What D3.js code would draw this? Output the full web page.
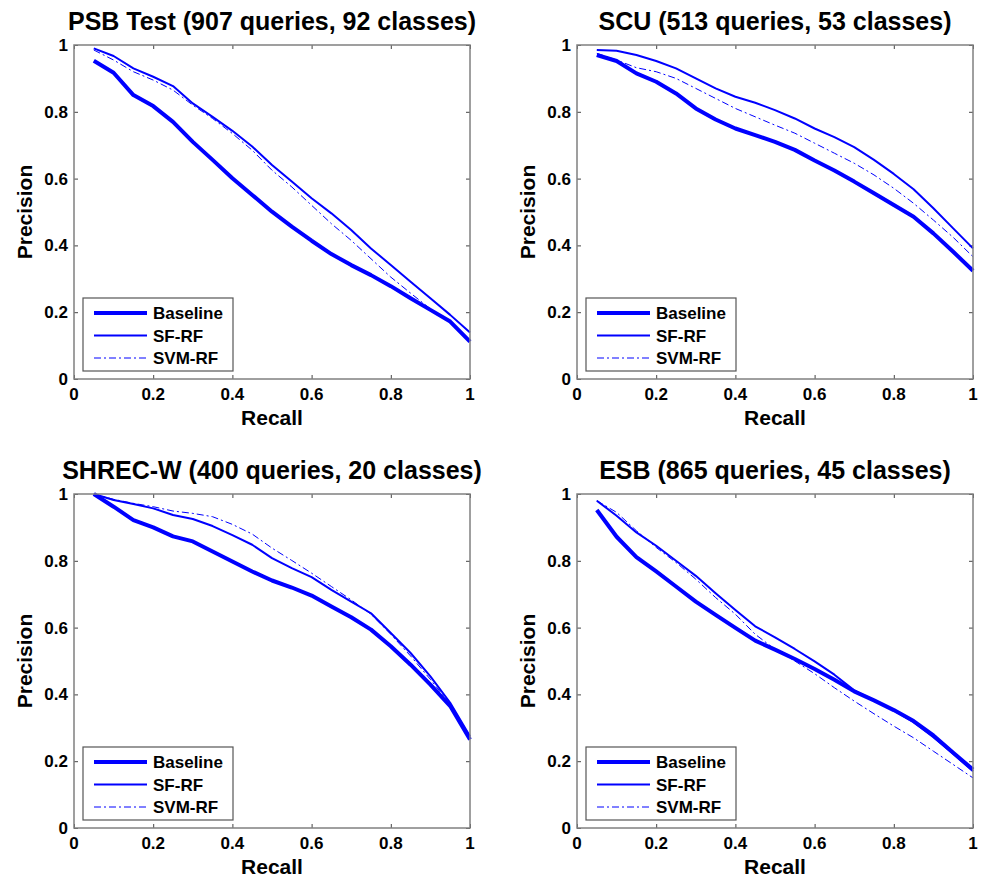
<!DOCTYPE html>
<html>
<head>
<meta charset="utf-8">
<script src="https://cdn.jsdelivr.net/npm/d3@7"></script>
<style>
  body { margin: 0; background: #fff; }
  text { font-family: "Liberation Sans", Arial, Helvetica, sans-serif; font-weight: bold; }
</style>
</head>
<body>
<svg id="drawing_region"></svg>
<script>
// recall levels shared by every curve
var recall = [0.05, 0.1, 0.15, 0.2, 0.25, 0.3, 0.35, 0.4, 0.45, 0.5,
              0.55, 0.6, 0.65, 0.7, 0.75, 0.8, 0.85, 0.9, 0.95, 1.0];
var ticks = [0, 0.2, 0.4, 0.6, 0.8, 1];
var tickLabels = ['0', '0.2', '0.4', '0.6', '0.8', '1'];
var methods = ['Baseline', 'SF-RF', 'SVM-RF'];
var titles = ['PSB Test (907 queries, 92 classes)', 'SCU (513 queries, 53 classes)',
              'SHREC-W (400 queries, 20 classes)', 'ESB (865 queries, 45 classes)'];

// PSB Test
var psbBaseline = [0.953, 0.917, 0.850, 0.817, 0.770, 0.710, 0.656, 0.601, 0.551, 0.501,
                   0.456, 0.414, 0.374, 0.341, 0.311, 0.278, 0.242, 0.207, 0.172, 0.112];
var psbSF       = [0.990, 0.967, 0.930, 0.905, 0.877, 0.825, 0.785, 0.743, 0.696, 0.641,
                   0.591, 0.541, 0.496, 0.446, 0.391, 0.341, 0.291, 0.242, 0.192, 0.139];
var psbSVM      = [0.985, 0.955, 0.920, 0.895, 0.865, 0.820, 0.780, 0.735, 0.685, 0.625,
                   0.575, 0.520, 0.465, 0.415, 0.360, 0.305, 0.257, 0.210, 0.170, 0.115];
// SCU
var scuBaseline = [0.970, 0.952, 0.915, 0.890, 0.855, 0.810, 0.777, 0.750, 0.730, 0.710,
                   0.686, 0.654, 0.624, 0.591, 0.556, 0.521, 0.486, 0.436, 0.381, 0.324];
var scuSF       = [0.985, 0.983, 0.970, 0.952, 0.930, 0.900, 0.870, 0.845, 0.827, 0.805,
                   0.780, 0.750, 0.724, 0.694, 0.656, 0.614, 0.568, 0.511, 0.451, 0.391];
var scuSVM      = [0.975, 0.955, 0.932, 0.920, 0.900, 0.870, 0.840, 0.810, 0.785, 0.760,
                   0.736, 0.706, 0.676, 0.646, 0.611, 0.571, 0.526, 0.476, 0.424, 0.366];
// SHREC-W
var shrecBaseline = [1.000, 0.962, 0.922, 0.900, 0.873, 0.858, 0.828, 0.798, 0.768, 0.741,
                     0.720, 0.696, 0.663, 0.631, 0.594, 0.544, 0.489, 0.429, 0.365, 0.265];
var shrecSF       = [1.000, 0.982, 0.970, 0.957, 0.937, 0.925, 0.904, 0.877, 0.848, 0.808,
                     0.778, 0.751, 0.713, 0.678, 0.643, 0.584, 0.524, 0.454, 0.375, 0.275];
var shrecSVM      = [1.000, 0.984, 0.972, 0.962, 0.949, 0.942, 0.932, 0.909, 0.880, 0.838,
                     0.801, 0.763, 0.723, 0.683, 0.640, 0.580, 0.515, 0.445, 0.370, 0.270];
// ESB
var esbBaseline = [0.952, 0.872, 0.811, 0.768, 0.723, 0.678, 0.638, 0.599, 0.561, 0.534,
                   0.506, 0.476, 0.444, 0.409, 0.382, 0.353, 0.320, 0.277, 0.225, 0.175];
var esbSF       = [0.980, 0.935, 0.885, 0.845, 0.800, 0.755, 0.703, 0.653, 0.604, 0.571,
                   0.536, 0.499, 0.459, 0.412, 0.382, 0.352, 0.317, 0.272, 0.222, 0.170];
var esbSVM      = [0.980, 0.945, 0.890, 0.840, 0.795, 0.745, 0.690, 0.640, 0.580, 0.535,
                   0.500, 0.462, 0.420, 0.380, 0.342, 0.305, 0.270, 0.230, 0.190, 0.150];

var panelSeries = [
    [psbBaseline, psbSF, psbSVM],
    [scuBaseline, scuSF, scuSVM],
    [shrecBaseline, shrecSF, shrecSVM],
    [esbBaseline, esbSF, esbSVM]
];

var styles = [
    {width: 4, dash: null},
    {width: 2, dash: null},
    {width: 1, dash: '7,3,2,3'}
];

var svg = d3.select('#drawing_region')
    .attr('width', 982)
    .attr('height', 879);

class PRChart {

    constructor( config, title, series ) {
        this.config = {
            left: config.left,
            top: config.top,
            width: config.width || 396,
            height: config.height || 334
        }
        this.title = title;
        this.series = series;
        this.init();
    }

    init() {
        let self = this;

        self.chart = svg.append('g')
            .attr('transform', `translate(${self.config.left}, ${self.config.top})`);

        self.xscale = d3.scaleLinear()
            .domain([0, 1])
            .range([0, self.config.width]);

        self.yscale = d3.scaleLinear()
            .domain([0, 1])
            .range([self.config.height, 0]);
    }

    render() {
        let self = this;
        let w = self.config.width, h = self.config.height;

        // inside ticks on all four sides, matlab style
        let fmt = (d, i) => tickLabels[i];
        self.chart.append('g')
            .attr('transform', `translate(0, ${h})`)
            .call(d3.axisTop(self.xscale).tickValues(ticks).tickSize(4).tickFormat(''));
        self.chart.append('g')
            .call(d3.axisBottom(self.xscale).tickValues(ticks).tickSize(4).tickFormat(''));
        self.chart.append('g')
            .call(d3.axisRight(self.yscale).tickValues(ticks).tickSize(4).tickFormat(''));
        self.chart.append('g')
            .attr('transform', `translate(${w}, 0)`)
            .call(d3.axisLeft(self.yscale).tickValues(ticks).tickSize(4).tickFormat(''));
        self.chart.selectAll('.domain').remove();
        self.chart.selectAll('.tick line').attr('stroke', '#444');

        // tick labels
        self.chart.append('g').selectAll('text').data(ticks).join('text')
            .attr('x', d => self.xscale(d))
            .attr('y', h + 21)
            .attr('text-anchor', 'middle')
            .attr('font-size', 17)
            .text(fmt);
        self.chart.append('g').selectAll('text').data(ticks).join('text')
            .attr('x', -6)
            .attr('y', d => self.yscale(d) + 6)
            .attr('text-anchor', 'end')
            .attr('font-size', 17)
            .text(fmt);

        // curves
        let line = d3.line()
            .x((d, i) => self.xscale(recall[i]))
            .y(d => self.yscale(d));

        self.chart.selectAll('path.curve').data(self.series).join('path')
            .attr('class', 'curve')
            .attr('d', line)
            .attr('fill', 'none')
            .attr('stroke', '#0000ff')
            .attr('stroke-width', (d, i) => styles[i].width)
            .attr('stroke-dasharray', (d, i) => styles[i].dash)
            .attr('stroke-linejoin', 'round');

        // box
        self.chart.append('rect')
            .attr('width', w)
            .attr('height', h)
            .attr('fill', 'none')
            .attr('stroke', '#808080')
            .attr('stroke-width', 1.5);

        // legend
        let lg = self.chart.append('g')
            .attr('transform', `translate(9, ${h - 81})`);
        lg.append('rect')
            .attr('width', 150)
            .attr('height', 73)
            .attr('fill', '#fff')
            .attr('stroke', '#555')
            .attr('stroke-width', 1.2);
        methods.forEach((m, i) => {
            let yy = 15 + i * 22.5;
            lg.append('line')
                .attr('x1', 11).attr('x2', 64)
                .attr('y1', yy).attr('y2', yy)
                .attr('stroke', '#0000ff')
                .attr('stroke-width', styles[i].width)
                .attr('stroke-dasharray', styles[i].dash);
            lg.append('text')
                .attr('x', 70)
                .attr('y', yy + 6)
                .attr('font-size', 17)
                .text(m);
        });

        // titles
        self.chart.append('text')
            .attr('x', w / 2)
            .attr('y', -15)
            .attr('text-anchor', 'middle')
            .attr('font-size', 25)
            .text(self.title);
        self.chart.append('text')
            .attr('x', w / 2)
            .attr('y', h + 46)
            .attr('text-anchor', 'middle')
            .attr('font-size', 21)
            .text('Recall');
        self.chart.append('text')
            .attr('transform', `translate(-42, ${h / 2}) rotate(-90)`)
            .attr('text-anchor', 'middle')
            .attr('font-size', 21)
            .text('Precision');
    }
}

var origins = [[74, 45], [577, 45], [74, 494], [577, 494]];
origins.forEach((o, i) => {
    let chart = new PRChart({left: o[0], top: o[1]}, titles[i], panelSeries[i]);
    chart.render();
});
</script>
</body>
</html>
